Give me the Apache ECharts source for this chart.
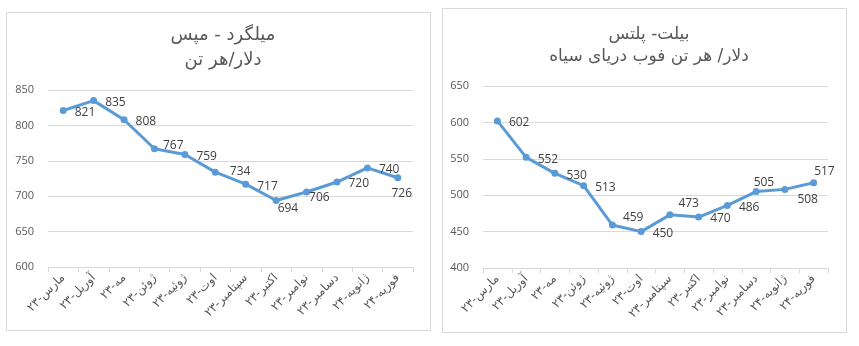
<!DOCTYPE html>
<html><head><meta charset="utf-8">
<script src="https://cdn.jsdelivr.net/npm/echarts@6/dist/echarts.min.js"></script>
<style>html,body{margin:0;padding:0;background:#fff}#c{width:859px;height:346px}</style>
</head><body><div id="c"></div>
<script>
const categories = ['مارس-۲۳','آوریل-۲۳','مه-۲۳','ژوئن-۲۳','ژوئیه-۲۳','اوت-۲۳','سپتامبر-۲۳','اکتبر-۲۳','نوامبر-۲۳','دسامبر-۲۳','ژانویه-۲۴','فوریه-۲۴'];
const rebarValues = [821,835,808,767,759,734,717,694,706,720,740,726];
const billetValues = [602,552,530,513,459,450,473,470,486,505,508,517];
const rebarTitle = 'میلگرد - مپس\nدلار/هر تن';
const billetTitle = 'بیلت- پلتس\nدلار/ هر تن فوب دریای سیاه';
const rebarAxis = {min:600, max:850, interval:50};
const billetAxis = {min:400, max:650, interval:50};

// label layout tweaks (index -> [dx, dy]) relative to default right placement
const rebarLabelTweaks = {3:[-3,-5],5:[3,-3],7:[-10,6],8:[-9,4],11:'bottom'};
const billetLabelTweaks = {4:[-1,-9],6:[-3,-13],9:[-14,-11],10:[1,8],11:[-11,-13]};

const FONT = "'Open Sans','DejaVu Sans',sans-serif";
const AFONT = "'DejaVu Sans',sans-serif";
const BLUE = '#5B9BD5';

function buildData(values, tweaks){
  return values.map((v,i)=>{
    const t = tweaks[i];
    let label;
    if (t === 'bottom') label = {position:'bottom', distance:6, offset:[4,0]};
    else if (t) label = {offset:[t[0], t[1]+2]};
    const item = {value:v};
    if (label) item.label = label;
    return item;
  });
}

const chart = echarts.init(document.getElementById('c'), null, {renderer:'canvas'});
function xAxisCfg(gi){
  return {type:'category', gridIndex:gi, data:categories, boundaryGap:true,
    axisLine:{show:true, lineStyle:{color:'#D9D9D9'}},
    axisTick:{show:true, length:5, lineStyle:{color:'#D9D9D9'}},
    axisLabel:{rotate:45, color:'#595959', fontSize:12, fontFamily:AFONT, margin:9, interval:0}};
}
function yAxisCfg(gi, ax){
  return {type:'value', gridIndex:gi, min:ax.min, max:ax.max, interval:ax.interval,
    axisLine:{show:false}, axisTick:{show:false},
    splitLine:{lineStyle:{color:'#D9D9D9'}},
    axisLabel:{color:'#595959', fontSize:11, fontFamily:FONT, margin:14}};
}
function seriesCfg(gi, values, tweaks){
  return {type:'line', xAxisIndex:gi, yAxisIndex:gi, data:buildData(values,tweaks),
    symbol:'circle', symbolSize:7, showAllSymbol:true,
    lineStyle:{color:BLUE, width:3}, itemStyle:{color:BLUE},
    label:{show:true, position:'right', distance:8, offset:[0,2], color:'#404040', fontSize:12, fontFamily:FONT},
    animation:false};
}
chart.setOption({
  animation:false,
  backgroundColor:'#fff',
  graphic:[
    {type:'rect', shape:{x:6.5,y:12.5,width:424,height:318}, style:{fill:'none', stroke:'#D9D9D9', lineWidth:1}, silent:true, z:-1},
    {type:'rect', shape:{x:442.5,y:8.5,width:404,height:324}, style:{fill:'none', stroke:'#D9D9D9', lineWidth:1}, silent:true, z:-1}
  ],
  title:[
    {text:rebarTitle, left:218, top:18, textAlign:'center', textStyle:{color:'#595959', fontSize:18, fontWeight:'normal', fontFamily:AFONT, lineHeight:25}},
    {text:billetTitle, left:644, top:19, textAlign:'center', textStyle:{color:'#595959', fontSize:17, fontWeight:'normal', fontFamily:AFONT, lineHeight:22}}
  ],
  grid:[
    {left:48, right:446, top:90, bottom:79, containLabel:false},
    {left:483, right:31, top:86, bottom:78, containLabel:false}
  ],
  xAxis:[xAxisCfg(0), xAxisCfg(1)],
  yAxis:[yAxisCfg(0, rebarAxis), yAxisCfg(1, billetAxis)],
  series:[seriesCfg(0, rebarValues, rebarLabelTweaks), seriesCfg(1, billetValues, billetLabelTweaks)]
});
</script></body></html>
